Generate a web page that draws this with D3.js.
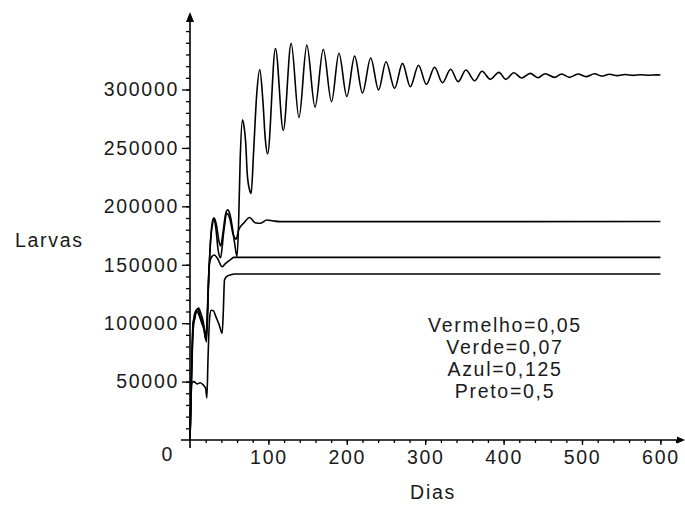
<!DOCTYPE html>
<html>
<head>
<meta charset="utf-8">
<script src="https://cdn.jsdelivr.net/npm/d3@7"></script>
<style>
  body { margin: 0; background: #fff; }
  text { font-family: "Liberation Sans", Arial, sans-serif; font-size: 19.5px; letter-spacing: 1.7px; fill: #1a1a1a; }
</style>
</head>
<body>
<svg id="chart"></svg>
<script>
// values: [dia, larvas]
const vermelho = [[0,0],[2,62000],[4,101000],[6,104000],[8,111000],[11,113000],[14,108000],[17,101000],[20,86000],
  [23,125000],[26,168000],[29,186000],[31,190000],[34,183000],[37,170000],[39,166000],[42,177000],[45,192000],
  [48,197000],[51,193000],[54,182000],[57,168000],[60,157000],[62,186000],[64,240000],[67,274000],[69,268000],
  [71,255000],[73,228000],[76,214000],[78,211000],[81,245000],[85,295000],[89,317000],[93,290000],[96,258000],
  [99,245000],[109,335000],[119,265000],[129,339500],[139,276000],[149,338000],[159.5,285000],[170,334500],
  [180.5,289500],[190,331000],[200,294000],[210,328600],[220,297000],[230.5,327000],[240.5,299600],[250,323800],
  [261,301000],[271,322400],[281,302400],[291.5,320700],[301.5,304400],[312,319000],[322,305800],[332.5,317300],
  [342,306700],[352,316700],[363,307500],[372.5,315600],[383,308700],[394,314700],[403,308700],[413,314400],
  [423,309800],[434,313800],[444,310100],[453,313500],[465,310400],[474,313300],[484,310400],[495,313300],
  [505,311000],[516,313500],[525,311500],[535,313000],[545,311900],[555,312800],[565,312100],[575,312600],
  [585,312200],[595,312500],[600,312400]];
const verde = [[0,0],[2,58000],[4,99000],[7,110000],[10,112000],[13,106000],[16,101000],[19,93000],[21,88000],
  [24,142000],[27,178000],[30,190000],[33,181000],[36,162000],[39,156000],[43,178000],[47,194000],[51,189000],
  [55,176000],[59,172000],[62,179700],[69,186000],[76,190500],[83,186000],[90,185500],[98,188300],[106,187500],
  [115,186900],[600,187000]];
const azul = [[0,0],[2,52000],[4,94000],[6,104000],[9,110000],[12,106000],[15,100000],[18,94000],[21,84000],
  [24.5,150000],[28,157000],[31,158300],[35,155500],[41,148300],[45.5,151200],[52,154600],[56,156300],[600,156300]];
const preto = [[0,0],[1,30000],[2.5,49000],[5,50000],[9,48000],[13,49000],[17,47000],[20,44000],[21.5,36000],
  [23,70000],[25,104000],[27,111000],[30,110500],[33,105600],[37,99000],[41,91300],[42.5,110000],[44,137000],
  [47,140000],[52,141500],[57,142100],[600,142100]];

const xTicks = [100, 200, 300, 400, 500, 600];
const yTicks = [0, 50000, 100000, 150000, 200000, 250000, 300000];
const legendLabels = ['Vermelho=0,05', 'Verde=0,07', 'Azul=0,125', 'Preto=0,5'];

const width = 685;
const height = 507;

const svg = d3.select('#chart')
  .attr('width', width)
  .attr('height', height);

const xScale = d3.scaleLinear().domain([0, 600]).range([190, 660.4]);
const yScale = d3.scaleLinear().domain([0, 300000]).range([440, 89.5]);

const x0 = xScale(0);
const y0 = yScale(0);

// minor ticks
svg.append('g')
  .attr('transform', `translate(0, ${y0})`)
  .call(d3.axisBottom(xScale).tickValues(d3.range(20, 621, 20)).tickSize(3).tickFormat(''))
  .call(g => g.select('.domain').remove());

svg.append('g')
  .attr('transform', `translate(${x0}, 0)`)
  .call(d3.axisLeft(yScale).tickValues(d3.range(10000, 350001, 10000)).tickSize(4).tickFormat(''))
  .call(g => g.select('.domain').remove());

// major ticks + labels
svg.append('g')
  .attr('transform', `translate(0, ${y0})`)
  .call(d3.axisBottom(xScale).tickValues(xTicks).tickSize(5).tickPadding(5).tickFormat(d3.format('d')))
  .call(g => g.select('.domain').remove());

svg.append('g')
  .attr('transform', `translate(${x0}, 0)`)
  .call(d3.axisLeft(yScale).tickValues(yTicks).tickSize(8).tickPadding(3).tickFormat(d3.format('d')))
  .call(g => g.select('.domain').remove())
  .call(g => g.selectAll('.tick').filter(d => d === 0).select('line').remove())
  .call(g => g.selectAll('.tick').filter(d => d === 0).select('text')
    .attr('x', -16).attr('y', 20).attr('dy', 0));

svg.selectAll('.tick line').attr('stroke', '#000').attr('stroke-width', 1.3);

// axis lines with arrows
svg.append('line')
  .attr('x1', 181).attr('x2', 682)
  .attr('y1', y0).attr('y2', y0)
  .attr('stroke', '#000').attr('stroke-width', 1.6);
svg.append('line')
  .attr('x1', x0).attr('x2', x0)
  .attr('y1', 448).attr('y2', 16)
  .attr('stroke', '#000').attr('stroke-width', 1.6);
svg.append('path')
  .attr('d', `M${x0},12 L${x0 - 4},22 L${x0 + 4},22 Z`)
  .attr('fill', '#000');
svg.append('path')
  .attr('d', `M685,${y0} L677,${y0 - 3.5} L677,${y0 + 3.5} Z`)
  .attr('fill', '#000');

// curves
const line = d3.line()
  .x(d => xScale(d[0]))
  .y(d => yScale(d[1]))
  .curve(d3.curveMonotoneX);

[vermelho, verde, azul, preto].forEach(series => {
  svg.append('path')
    .datum(series)
    .attr('d', line)
    .attr('fill', 'none')
    .attr('stroke', '#000')
    .attr('stroke-width', 1.6)
    .attr('stroke-linejoin', 'round');
});

// axis titles
svg.append('text').attr('x', 15).attr('y', 247).text('Larvas');
svg.append('text').attr('x', 433).attr('y', 499).attr('text-anchor', 'middle').text('Dias');

// legend
svg.selectAll('.legend')
  .data(legendLabels)
  .enter()
  .append('text')
  .attr('class', 'legend')
  .attr('x', 505)
  .attr('y', (d, i) => 332 + i * 22)
  .attr('text-anchor', 'middle')
  .text(d => d);
</script>
</body>
</html>
